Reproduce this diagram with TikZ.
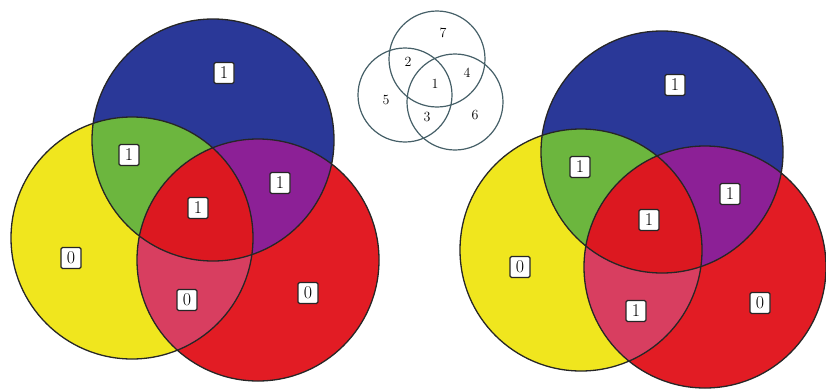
\documentclass[tikz,border=0pt]{standalone}
\definecolor{cblue}{RGB}{42,56,152}
\definecolor{cyellow}{RGB}{240,230,30}
\definecolor{cred}{RGB}{226,28,36}
\definecolor{cgreen}{RGB}{108,182,62}
\definecolor{cpurple}{RGB}{140,32,150}
\definecolor{cpink}{RGB}{216,62,96}
\definecolor{ccenter}{RGB}{220,24,32}
\definecolor{smallline}{RGB}{70,96,104}
\newcommand\rr{121pt}
\newcommand\threevenn[3]{%
  \fill[cblue] (#1) circle[radius=\rr];
  \fill[cyellow] (#2) circle[radius=\rr];
  \fill[cred] (#3) circle[radius=\rr];
  \begin{scope}
    \clip (#1) circle[radius=\rr];
    \fill[cgreen] (#2) circle[radius=\rr];
    \fill[cpurple] (#3) circle[radius=\rr];
  \end{scope}
  \begin{scope}
    \clip (#2) circle[radius=\rr];
    \fill[cpink] (#3) circle[radius=\rr];
  \end{scope}
  \begin{scope}
    \clip (#1) circle[radius=\rr];
    \clip (#2) circle[radius=\rr];
    \fill[ccenter] (#3) circle[radius=\rr];
  \end{scope}
  \draw[vline] (#1) circle[radius=\rr] (#2) circle[radius=\rr] (#3) circle[radius=\rr];
}
\begin{document}
\begin{tikzpicture}[x=1pt,y=-1pt,
  vline/.style={draw=black!85,line width=1.3pt},
  sline/.style={draw=smallline,line width=1.2pt},
  lab/.style={draw=black!85,fill=white,rounded corners=1.5pt,line width=1.3pt,
    minimum width=20pt,minimum height=21pt,inner sep=0pt,
    font=\fontsize{18}{18}\selectfont},
  snum/.style={inner sep=0pt,font=\fontsize{14}{14}\selectfont}]
\useasboundingbox (0,0) rectangle (826,388);
\fill[white] (0,0) rectangle (826,388);
% left diagram
\coordinate (B1) at (213,140);
\coordinate (Y1) at (132,238);
\coordinate (R1) at (258,260);
\threevenn{B1}{Y1}{R1}
% right diagram
\coordinate (B2) at (662,152);
\coordinate (Y2) at (581,250);
\coordinate (R2) at (705,267);
\threevenn{B2}{Y2}{R2}
% small key diagram
\coordinate (ST) at (437,59);
\coordinate (SL) at (405,95);
\coordinate (SR) at (455,102);
\draw[sline] (ST) circle[radius=48pt];
\draw[sline] (SL) circle[radius=47pt];
\draw[sline] (SR) circle[radius=48pt];
\node[snum] (k7) at (443,33) {7};
\node[snum] (k2) at (408,62) {2};
\node[snum] (k4) at (467,73) {4};
\node[snum] (k1) at (435,84) {1};
\node[snum] (k5) at (386,100) {5};
\node[snum] (k3) at (427,117) {3};
\node[snum] (k6) at (475,115) {6};
% labels left
\node[lab] (lb1) at (224,73) {1};
\node[lab] (lg1) at (129,155) {1};
\node[lab] (lp1) at (280,183) {1};
\node[lab] (lc1) at (198,208) {1};
\node[lab] (ly1) at (71,258) {0};
\node[lab] (lk1) at (187,300) {0};
\node[lab] (lr1) at (308,293) {0};
% labels right
\node[lab] (lb2) at (675,85) {1};
\node[lab] (lg2) at (580,167) {1};
\node[lab] (lp2) at (730,194) {1};
\node[lab] (lc2) at (649,220) {1};
\node[lab] (ly2) at (520,267) {0};
\node[lab] (lk2) at (636,311) {1};
\node[lab] (lr2) at (760,303) {0};
\end{tikzpicture}
\end{document}
